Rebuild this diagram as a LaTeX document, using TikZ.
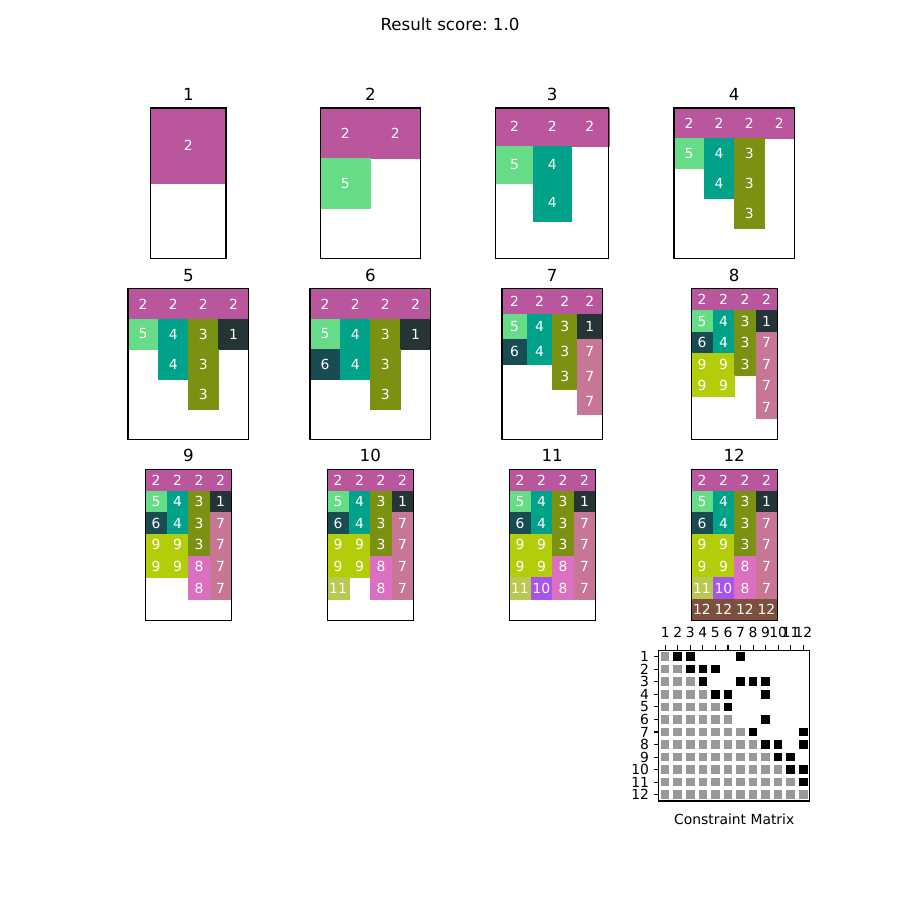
\documentclass[tikz,border=0pt]{standalone}
\usepackage{fontspec}
\setmainfont{DejaVu Sans}
\frenchspacing

\definecolor{c1}{RGB}{37,52,52}
\definecolor{c2}{RGB}{185,86,157}
\definecolor{c3}{RGB}{122,145,18}
\definecolor{c4}{RGB}{0,162,137}
\definecolor{c5}{RGB}{102,220,134}
\definecolor{c6}{RGB}{24,76,82}
\definecolor{c7}{RGB}{200,118,150}
\definecolor{c8}{RGB}{220,112,192}
\definecolor{c9}{RGB}{180,205,10}
\definecolor{c10}{RGB}{168,82,240}
\definecolor{c11}{RGB}{185,200,80}
\definecolor{c12}{RGB}{125,80,62}
\definecolor{matgray}{RGB}{153,153,153}

\tikzset{
    frame/.style={draw=black, line width=0.8bp},
    celltext/.style={text=white, inner sep=0pt, font=\fontsize{10bp}{12bp}\selectfont},
    ticktext/.style={text=black, inner sep=0pt, font=\fontsize{10bp}{12bp}\selectfont},
    paneltitle/.style={anchor=base, inner sep=0pt, font=\fontsize{12bp}{14bp}\selectfont},
}

% #1 number, #2 centre x, #3 top y, #4 columns, #5 rows, #6 rows of values
\newcommand{\drawpanel}[6]{%
    \pgfmathsetmacro{\cellsz}{150.65/#5}
    \pgfmathsetmacro{\leftx}{#2-#4*\cellsz/2}
    \foreach \row [count=\r] in {#6} {
        \foreach \v [count=\c] in \row {
            \ifnum\v>0\relax
                \fill[fill=c\v, draw=c\v, line width=0.2bp] (\leftx+\c*\cellsz-\cellsz, #3+\r*\cellsz-\cellsz) rectangle ++(\cellsz, \cellsz);
                \node[celltext] (p#1-\r-\c) at (\leftx+\c*\cellsz-\cellsz/2, #3+\r*\cellsz-\cellsz/2) {\v};
            \fi
        }
    }
    \draw[frame] (\leftx, #3) rectangle ++(#4*\cellsz, 150.65);
    \node[paneltitle] (t#1) at (#2, #3-7.6) {#1};
}

\begin{document}
\begin{tikzpicture}[x=0.72bp, y=-0.72bp]
    \useasboundingbox[fill=white] (0,0) rectangle (900,900);

    \node[paneltitle] (suptitle) at (450, 30.5) {Result score: 1.0};

    \drawpanel{1}{188.3}{108}{1}{2}{{2},{0}}
    \drawpanel{2}{370.3}{108}{2}{3}{{2,2},{5,0},{0,0}}
    \drawpanel{3}{552.2}{108}{3}{4}{{2,2,2},{5,4,0},{0,4,0},{0,0,0}}
    \drawpanel{4}{734.2}{108}{4}{5}{{2,2,2,2},{5,4,3,0},{0,4,3,0},{0,0,3,0},{0,0,0,0}}

    \drawpanel{5}{188.3}{288.78}{4}{5}{{2,2,2,2},{5,4,3,1},{0,4,3,0},{0,0,3,0},{0,0,0,0}}
    \drawpanel{6}{370.3}{288.78}{4}{5}{{2,2,2,2},{5,4,3,1},{6,4,3,0},{0,0,3,0},{0,0,0,0}}
    \drawpanel{7}{552.2}{288.78}{4}{6}{{2,2,2,2},{5,4,3,1},{6,4,3,7},{0,0,3,7},{0,0,0,7},{0,0,0,0}}
    \drawpanel{8}{734.2}{288.78}{4}{7}{{2,2,2,2},{5,4,3,1},{6,4,3,7},{9,9,3,7},{9,9,0,7},{0,0,0,7},{0,0,0,0}}

    \drawpanel{9}{188.3}{469.57}{4}{7}{{2,2,2,2},{5,4,3,1},{6,4,3,7},{9,9,3,7},{9,9,8,7},{0,0,8,7},{0,0,0,0}}
    \drawpanel{10}{370.3}{469.57}{4}{7}{{2,2,2,2},{5,4,3,1},{6,4,3,7},{9,9,3,7},{9,9,8,7},{11,0,8,7},{0,0,0,0}}
    \drawpanel{11}{552.2}{469.57}{4}{7}{{2,2,2,2},{5,4,3,1},{6,4,3,7},{9,9,3,7},{9,9,8,7},{11,10,8,7},{0,0,0,0}}
    \drawpanel{12}{734.2}{469.57}{4}{7}{{2,2,2,2},{5,4,3,1},{6,4,3,7},{9,9,3,7},{9,9,8,7},{11,10,8,7},{12,12,12,12}}

    \pgfmathsetmacro{\mcell}{150.65/12}
    \foreach \i in {1,...,12} {
        \foreach \j in {1,...,\i} {
            \fill[matgray] (658.9+\j*\mcell-\mcell/2-4.25, 650.35+\i*\mcell-\mcell/2-4.25) rectangle ++(8.5, 8.5);
        }
    }
    \foreach \i/\j in {1/2,1/3,1/7,2/3,2/4,2/5,3/4,3/7,3/8,3/9,4/5,4/6,4/9,5/6,6/9,7/8,7/12,8/9,8/10,8/12,9/10,9/11,10/11,10/12,11/12} {
        \fill[black] (658.9+\j*\mcell-\mcell/2-4.25, 650.35+\i*\mcell-\mcell/2-4.25) rectangle ++(8.5, 8.5);
    }
    \draw[frame] (658.9, 650.35) rectangle ++(150.65, 150.65);
    \foreach \k in {1,...,12} {
        \draw[frame] (658.9+\k*\mcell-\mcell/2, 650.35) -- ++(0, -4.86);
        \node[ticktext, anchor=base] (xt\k) at (658.9+\k*\mcell-\mcell/2, 637.5) {\k};
        \draw[frame] (658.9, 650.35+\k*\mcell-\mcell/2) -- ++(-4.86, 0);
        \node[ticktext, anchor=east] (yt\k) at (649.2, 650.35+\k*\mcell-\mcell/2) {\k};
    }
    \node[ticktext, anchor=base] (mlabel) at (734.2, 824.5) {Constraint Matrix};
\end{tikzpicture}
\end{document}
